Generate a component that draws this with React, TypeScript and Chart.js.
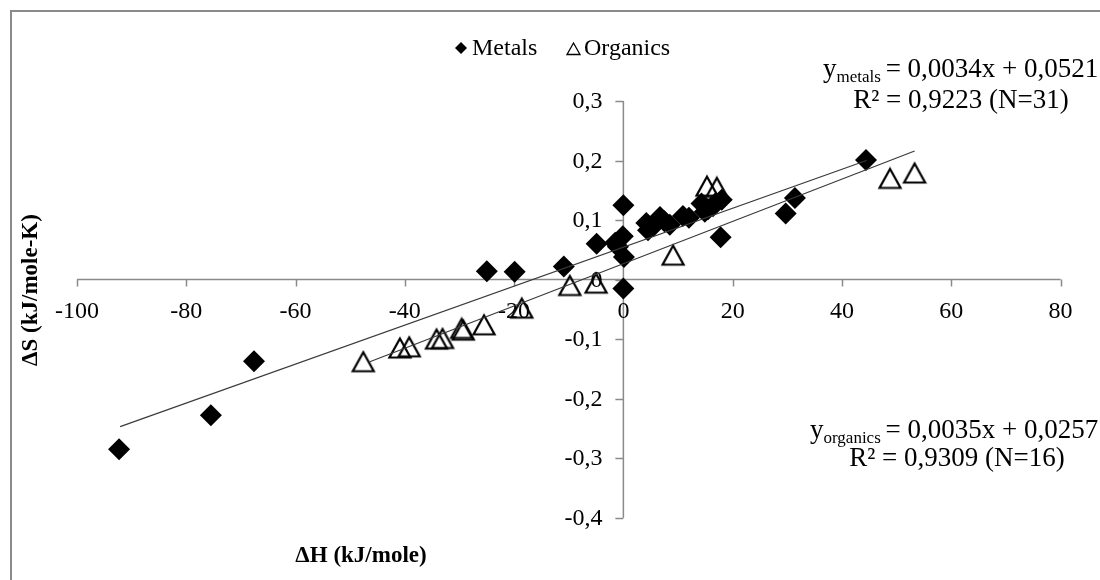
import React, { useEffect, useRef } from "react";
import { Chart, registerables } from "chart.js";

Chart.register(...registerables);

// ΔH (kJ/mole), ΔS (kJ/mole-K)
const metalsX = [-92.3, -75.5, -67.6, -25.0, -19.9, -10.9, -4.9, 0.0, -0.1, -1.0, 0.1, 0.0,
  4.2, 4.5, 6.7, 8.5, 10.9, 14.3, 14.9, 18.0, 16.4, 17.8, 29.7, 31.4, 44.4,
  5.5, 7.5, 15.5, 16.8, -1.5, 12.0];
const metalsY = [-0.285, -0.228, -0.137, 0.014, 0.013, 0.022, 0.060, 0.125, 0.073, 0.055, 0.038, -0.015,
  0.095, 0.083, 0.105, 0.092, 0.107, 0.128, 0.114, 0.134, 0.123, 0.071, 0.111, 0.137, 0.201,
  0.090, 0.098, 0.118, 0.128, 0.062, 0.104];

const organicsX = [-47.6, -40.9, -39.2, -34.2, -33.1, -29.6, -29.3, -25.5, -18.6, -9.8, -5.0, 9.1, 15.3, 17.1, 48.8, 53.3];
const organicsY = [-0.138, -0.115, -0.113, -0.100, -0.099, -0.082, -0.085, -0.076, -0.048, -0.010, -0.006, 0.041, 0.157, 0.155, 0.170, 0.179];

// trendline endpoints
const metalsTrendX = [-92.1, 44.5];
const metalsTrendY = [-0.247, 0.200];
const organicsTrendX = [-46.4, 53.3];
const organicsTrendY = [-0.138, 0.216];

const xTicks = [-100, -80, -60, -40, -20, 0, 20, 40, 60, 80];
const xTickLabels = ["-100", "-80", "-60", "-40", "-20", "0", "20", "40", "60", "80"];
const yTicks = [-0.4, -0.3, -0.2, -0.1, 0, 0.1, 0.2, 0.3];
const yTickLabels = ["-0,4", "-0,3", "-0,2", "-0,1", "0", "0,1", "0,2", "0,3"];

const seriesNames = ["Metals", "Organics"];
const metalsEq = { base: "y", sub: "metals", rest: " = 0,0034x + 0,0521", r2: "R² = 0,9223 (N=31)" };
const organicsEq = { base: "y", sub: "organics", rest: " = 0,0035x + 0,0257", r2: "R² = 0,9309 (N=16)" };
const xTitle = "ΔH (kJ/mole)";
const yTitle = "ΔS (kJ/mole-K)";

const SERIF = '"Liberation Serif", "Times New Roman", serif';

function makeTriangle(): HTMLCanvasElement {
  const c = document.createElement("canvas");
  c.width = 26;
  c.height = 24;
  const g = c.getContext("2d")!;
  g.strokeStyle = "#000000";
  g.lineWidth = 2.2;
  g.lineJoin = "miter";
  g.beginPath();
  g.moveTo(13, 2.5);
  g.lineTo(23.5, 21.5);
  g.lineTo(2.5, 21.5);
  g.closePath();
  g.stroke();
  return c;
}

const decorPlugin = {
  id: "decor",
  beforeDraw(chart: any) {
    const ctx = chart.ctx;
    ctx.save();
    ctx.fillStyle = "#ffffff";
    ctx.fillRect(0, 0, chart.width, chart.height);
    ctx.strokeStyle = "#8a8a8a";
    ctx.lineWidth = 2;
    ctx.beginPath();
    ctx.moveTo(11, chart.height + 5);
    ctx.lineTo(11, 11);
    ctx.lineTo(chart.width + 5, 11);
    ctx.stroke();
    ctx.restore();
  },
  beforeDatasetsDraw(chart: any) {
    const ctx = chart.ctx;
    const xs = chart.scales.x;
    const ys = chart.scales.y;
    const y0 = ys.getPixelForValue(0);
    const x0 = xs.getPixelForValue(0);
    ctx.save();
    ctx.strokeStyle = "#8a8a8a";
    ctx.lineWidth = 1.5;
    ctx.beginPath();
    ctx.moveTo(xs.left, y0);
    ctx.lineTo(xs.right, y0);
    xTicks.forEach((v) => {
      const px = Math.round(xs.getPixelForValue(v)) + 0.5;
      ctx.moveTo(px, y0);
      ctx.lineTo(px, y0 + 7);
    });
    ctx.moveTo(x0, ys.top);
    ctx.lineTo(x0, ys.bottom);
    yTicks.forEach((v) => {
      const py = Math.round(ys.getPixelForValue(v)) + 0.5;
      ctx.moveTo(x0 - 8, py);
      ctx.lineTo(x0, py);
    });
    ctx.stroke();

    ctx.fillStyle = "#000000";
    ctx.font = `24px ${SERIF}`;
    ctx.textAlign = "center";
    ctx.textBaseline = "middle";
    xTicks.forEach((v, i) => {
      ctx.fillText(xTickLabels[i], xs.getPixelForValue(v), y0 + 32);
    });
    ctx.textAlign = "right";
    yTicks.forEach((v, i) => {
      ctx.fillText(yTickLabels[i], x0 - 21, ys.getPixelForValue(v) + 1);
    });
    ctx.restore();
  },
  afterDraw(chart: any) {
    const ctx = chart.ctx;
    ctx.save();
    ctx.fillStyle = "#000000";
    ctx.strokeStyle = "#000000";

    // legend
    ctx.beginPath();
    ctx.moveTo(461, 42);
    ctx.lineTo(467, 48);
    ctx.lineTo(461, 54);
    ctx.lineTo(455, 48);
    ctx.closePath();
    ctx.fill();
    ctx.font = `24px ${SERIF}`;
    ctx.textAlign = "left";
    ctx.textBaseline = "middle";
    ctx.fillText(seriesNames[0], 472, 49);
    ctx.lineWidth = 1.3;
    ctx.beginPath();
    ctx.moveTo(573.5, 43);
    ctx.lineTo(580, 54.5);
    ctx.lineTo(567, 54.5);
    ctx.closePath();
    ctx.stroke();
    ctx.fillText(seriesNames[1], 584, 49);

    // equations
    const drawEq = (eq: any, x: number, base1: number, cx2: number, base2: number) => {
      ctx.textBaseline = "alphabetic";
      ctx.textAlign = "left";
      ctx.font = `27px ${SERIF}`;
      ctx.fillText(eq.base, x, base1);
      let cx = x + ctx.measureText(eq.base).width;
      ctx.font = `17px ${SERIF}`;
      ctx.fillText(eq.sub, cx, base1 + 5);
      cx += ctx.measureText(eq.sub).width;
      ctx.font = `27px ${SERIF}`;
      ctx.fillText(eq.rest, cx - 2, base1);
      ctx.textAlign = "center";
      ctx.fillText(eq.r2, cx2, base2);
    };
    drawEq(metalsEq, 823, 77, 961, 108);
    drawEq(organicsEq, 810, 438, 957, 466);

    // axis titles
    ctx.font = `bold 23px ${SERIF}`;
    ctx.textAlign = "center";
    ctx.textBaseline = "middle";
    ctx.fillText(xTitle, 361, 556);
    ctx.translate(31, 290);
    ctx.rotate(-Math.PI / 2);
    ctx.fillText(yTitle, 0, 0);
    ctx.restore();
  },
};

export default function App() {
  const ref = useRef<HTMLCanvasElement | null>(null);
  useEffect(() => {
    if (!ref.current) return;
    const toPts = (xs: number[], ys: number[]) => xs.map((x, i) => ({ x, y: ys[i] }));
    const tri = makeTriangle();
    const chart = new Chart(ref.current, {
      type: "scatter",
      data: {
        datasets: [
          {
            label: "metals trend",
            data: toPts(metalsTrendX, metalsTrendY),
            showLine: true,
            borderColor: "#3a3a3a",
            borderWidth: 1.2,
            pointRadius: 0,
            order: -2,
          } as any,
          {
            label: "organics trend",
            data: toPts(organicsTrendX, organicsTrendY),
            showLine: true,
            borderColor: "#3a3a3a",
            borderWidth: 1.2,
            pointRadius: 0,
            order: -1,
          } as any,
          {
            label: seriesNames[1],
            data: toPts(organicsX, organicsY),
            pointStyle: tri,
            pointRadius: 12,
            backgroundColor: "rgba(255,255,255,0)",
            borderColor: "#000000",
            borderWidth: 0,
            order: 1,
          } as any,
          {
            label: seriesNames[0],
            data: toPts(metalsX, metalsY),
            pointStyle: "rectRot",
            pointRadius: 11,
            backgroundColor: "#000000",
            borderColor: "#000000",
            borderWidth: 0,
            order: 2,
          },
        ],
      },
      options: {
        responsive: false,
        animation: false,
        clip: false as any,
        layout: { padding: { left: 77, right: 39.5, top: 101, bottom: 62.3 } },
        plugins: { legend: { display: false }, tooltip: { enabled: false } },
        scales: {
          x: { type: "linear", min: -100, max: 80, display: false },
          y: { type: "linear", min: -0.4, max: 0.3, display: false },
        },
      },
      plugins: [decorPlugin],
    });
    return () => chart.destroy();
  }, []);
  return (
    <canvas
      ref={ref}
      width={1100}
      height={580}
      style={{ position: "fixed", left: 0, top: 0, width: 1100, height: 580 }}
    />
  );
}
